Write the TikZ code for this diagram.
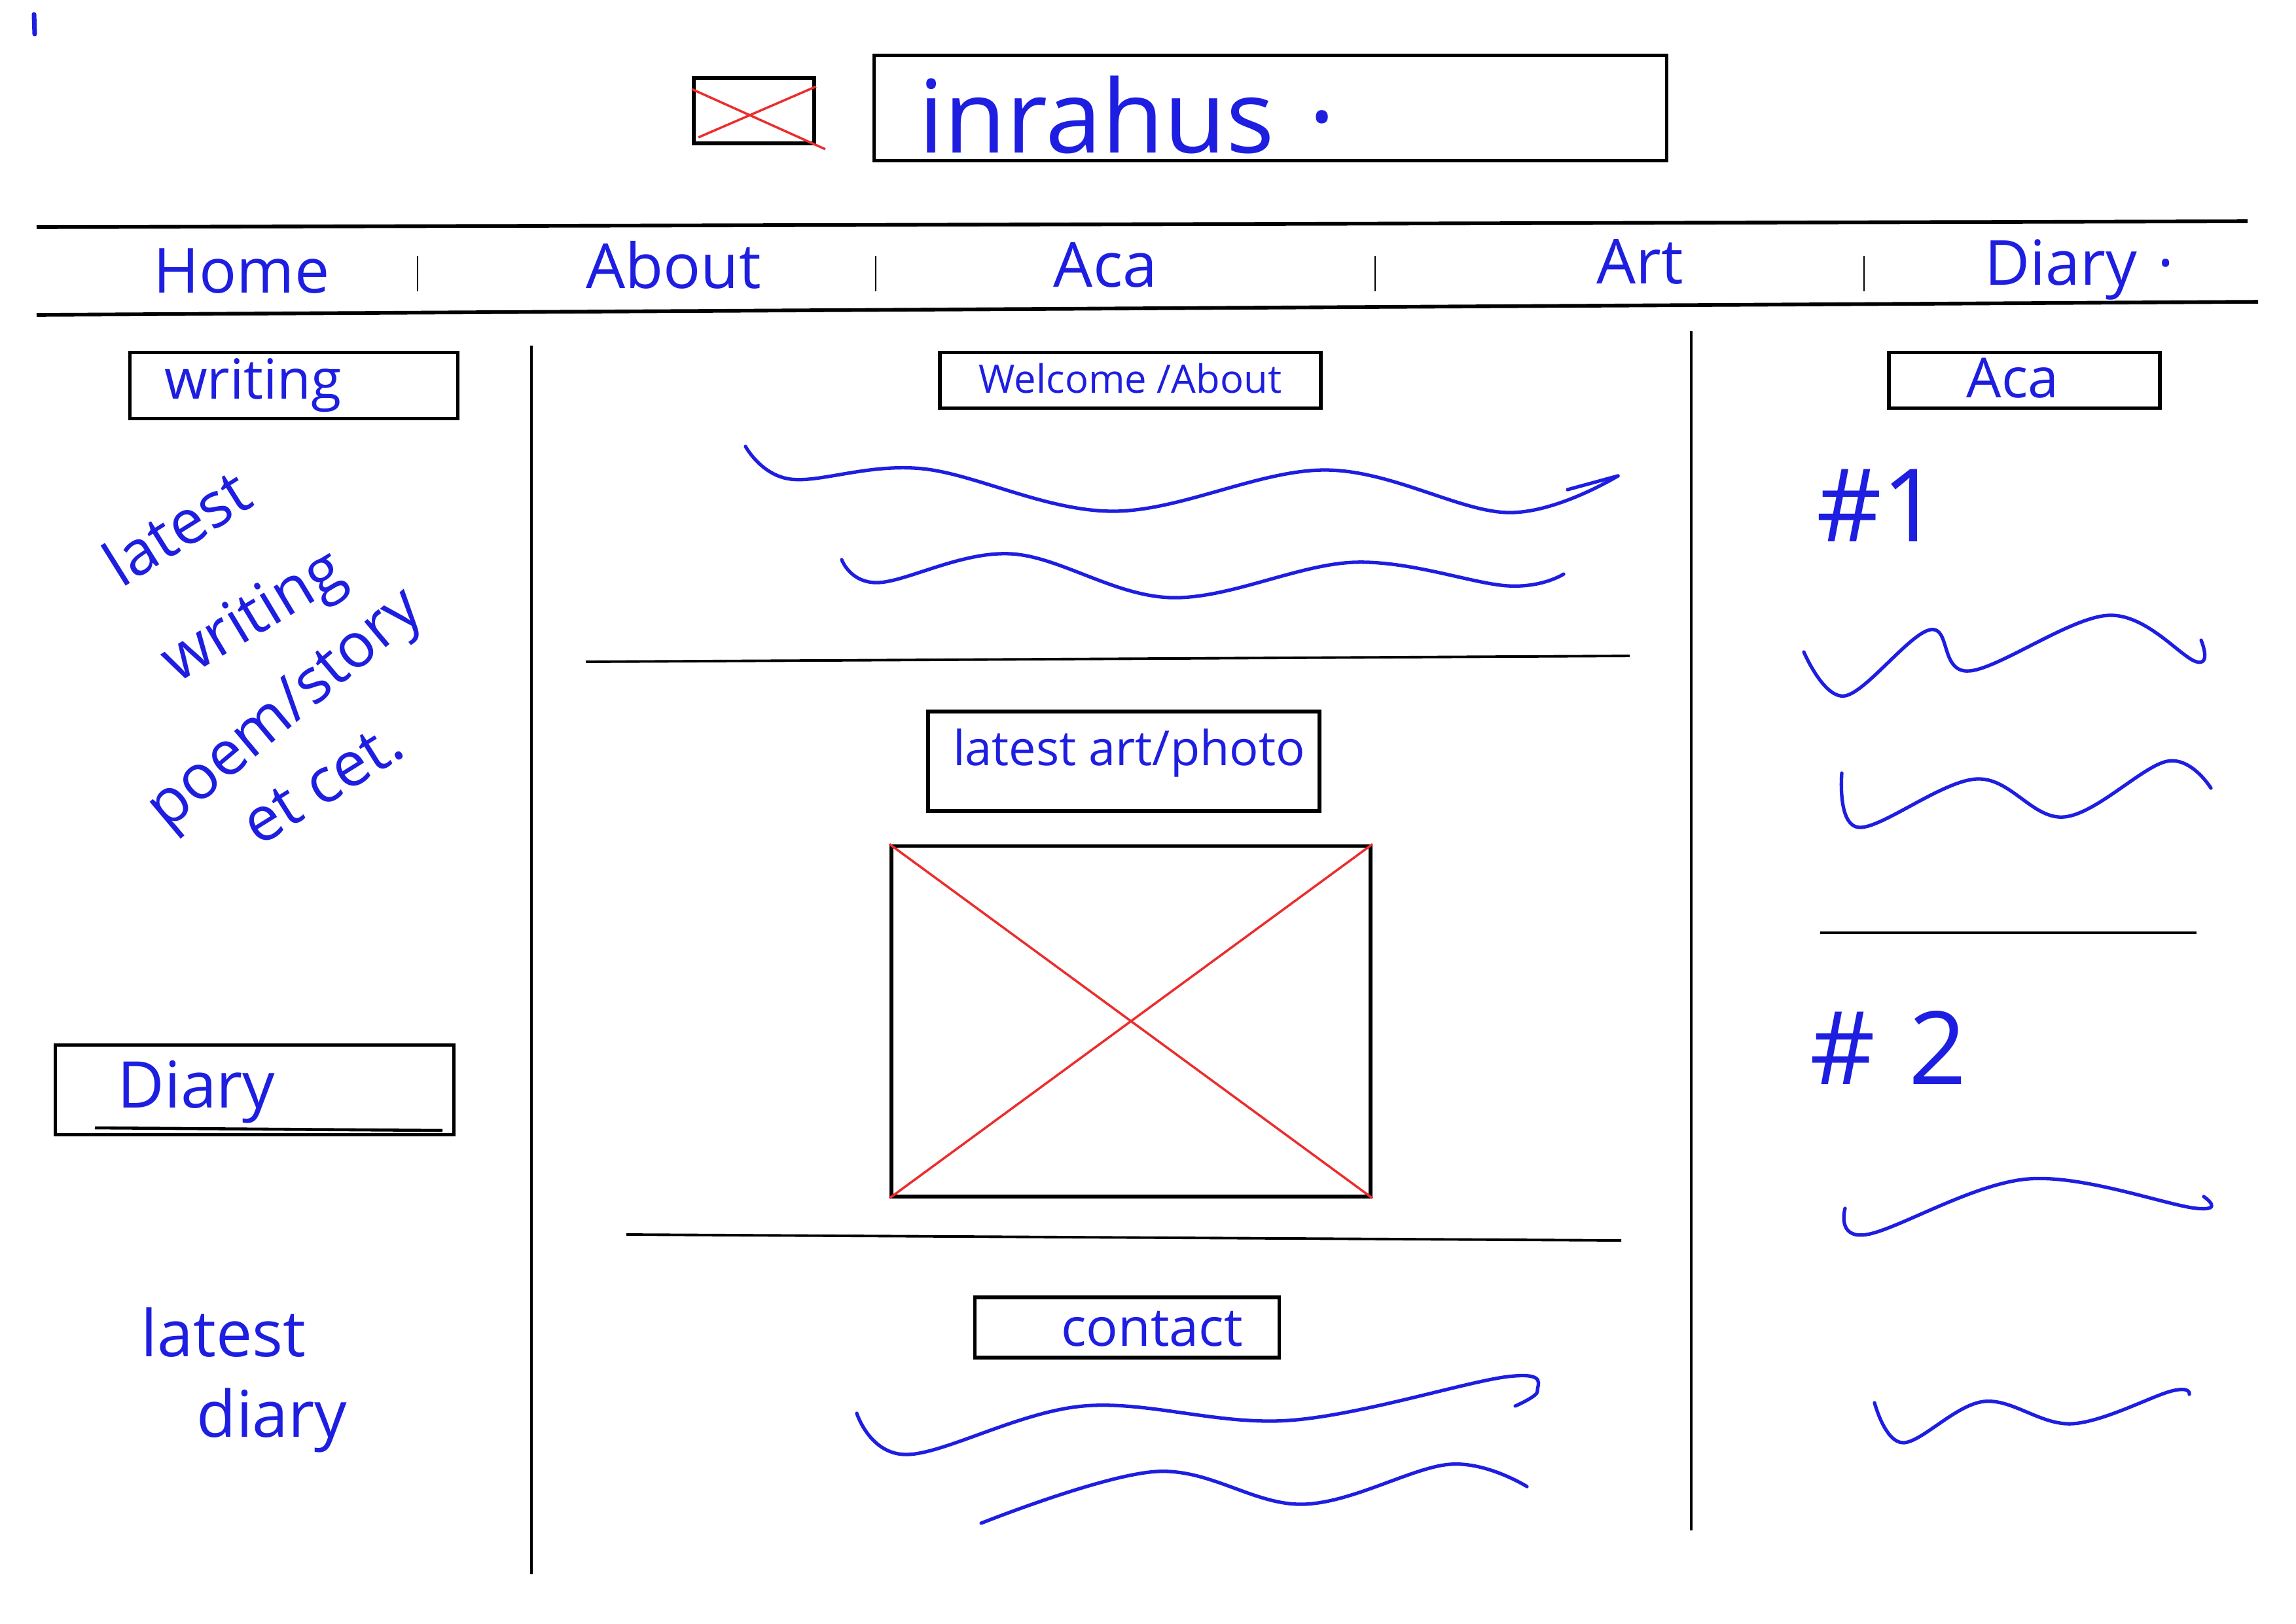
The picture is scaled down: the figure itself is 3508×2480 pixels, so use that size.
\documentclass[tikz,border=0pt]{standalone}
\usepackage{fontspec}
\setmainfont{Open Sans}
\usetikzlibrary{positioning, calc}
\definecolor{inkblue}{RGB}{30,30,225}
\definecolor{markred}{RGB}{235,45,45}
\tikzset{
    frame/.style={rectangle, draw=black, line width=1.6pt, inner sep=0pt},
    rule/.style={draw=black, line width=1.1pt},
    ink/.style={draw=inkblue, line width=1.5pt, line cap=round, line join=round},
    cross/.style={draw=markred, line width=1pt},
    hand/.style={text=inkblue, inner sep=0pt, font=\fontsize{24}{26}\selectfont},
}

\begin{document}
\begin{tikzpicture}[
    x=0.01cm, y=-0.01cm,
    navitem/.style={hand, font=\fontsize{27}{28}\selectfont},
    big/.style={hand, font=\fontsize{44}{46}\selectfont},
    slant/.style={hand, font=\fontsize{27}{29}\selectfont, anchor=base west},
]
\useasboundingbox (0,0) rectangle (3508,2480);

% stray mark and header
\draw[ink, line width=2pt] (52,22) -- (53,52);
\node[frame, minimum width=1.84cm, minimum height=1cm] (logo) at (1152,169) {};
\draw[cross] (logo.north west) ++(0,20) -- ($(logo.south east)+(14,6)$);
\draw[cross] ($(logo.south west)+(10,-12)$) -- ($(logo.north east)+(0,16)$);
\node[frame, minimum width=12.1cm, minimum height=1.61cm] (banner) at (1941,165) {};
\node[big, anchor=west] (site) at ($(banner.west)+(70,10)$) {inrahus\,\,·};

% navigation bar
\coordinate (navtl) at (56,347);
\coordinate (navtr) at (3434,338);
\coordinate (navbl) at (56,481);
\coordinate (navbr) at (3450,461);
\draw[rule, line width=1.6pt] (navtl) -- (navtr);
\draw[rule, line width=1.6pt] (navbl) -- (navbr);
\node[navitem] (home) at (369,414) {Home};
\node[navitem] (about) at (1029,405) {About};
\node[navitem] (aca) at (1689,405) {Aca};
\node[navitem] (art) at (2506,400) {Art};
\node[navitem] (diary) at (3177,412) {Diary\,\,·};
\foreach \x in {638,1338,2101,2848}
    \draw[rule, line width=0.6pt] (\x,391) -- (\x,445);

% column dividers
\draw[rule] (812,528) -- (812,2405);
\draw[rule] (2584,506) -- (2584,2338);

% left column
\node[frame, minimum width=5.01cm, minimum height=1.01cm] (writebox) at (449,589) {};
\node[hand, anchor=west] (writelbl) at ($(writebox.west)+(55,0)$) {writing};
\node[slant, rotate=32] (l1) at (185,900) {latest};
\node[slant, rotate=31] (l2) at (270,1045) {writing};
\node[slant, rotate=40] (l3) at (255,1270) {poem/story};
\node[slant, rotate=32] (l4) at (395,1295) {et cet.};

\node[frame, minimum width=6.09cm, minimum height=1.37cm] (diarybox) at (389,1665) {};
\node[hand, font=\fontsize{28}{30}\selectfont] (diarylbl) at (300,1668) {Diary};
\draw[rule, line width=1.3pt] (145,1723) -- (676,1727);
\node[hand, font=\fontsize{28}{30}\selectfont, anchor=west] (ld1) at (215,2036) {latest};
\node[hand, font=\fontsize{28}{30}\selectfont, anchor=west] (ld2) at (300,2170) {diary};

% centre column
\node[frame, minimum width=5.82cm, minimum height=0.85cm] (welcome) at (1727,581) {};
\node[hand, font=\fontsize{17}{18}\selectfont] (welcomelbl) at (1727,578) {Welcome /About};
\draw[ink] plot[smooth, tension=0.6] coordinates {(1139,682) (1208,732) (1409,716) (1700,781) (2025,718) (2304,783) (2472,727)};
\draw[ink] (2472,727) -- (2395,748);
\draw[ink] plot[smooth, tension=0.6] coordinates {(1286,855) (1342,890) (1544,846) (1790,913) (2069,859) (2304,895) (2389,877)};
\draw[rule] (895,1011) -- (2490,1002);

\node[frame, minimum width=5.98cm, minimum height=1.52cm] (artbox) at (1717,1163) {};
\node[hand, font=\fontsize{21}{22}\selectfont] (artlbl) at (1725,1150) {latest art/photo};
\node[frame, minimum width=7.32cm, minimum height=5.35cm] (photo) at (1728,1560) {};
\draw[cross] (photo.north west) -- (photo.south east);
\draw[cross] (photo.south west) -- (photo.north east);
\draw[rule] (957,1886) -- (2477,1895);

\node[frame, minimum width=4.65cm, minimum height=0.92cm] (contact) at (1722,2028) {};
\node[hand, font=\fontsize{23}{24}\selectfont] (contactlbl) at (1760,2030) {contact};
\draw[ink] plot[smooth, tension=0.6] coordinates {(1309,2159) (1387,2222) (1655,2148) (1969,2170) (2304,2103) (2349,2125) (2315,2148)};
\draw[ink] plot[smooth, tension=0.6] coordinates {(1499,2327) (1767,2248) (1991,2298) (2215,2237) (2333,2271)};

% right column
\node[frame, minimum width=4.14cm, minimum height=0.85cm] (acabox) at (3093,581) {};
\node[hand, font=\fontsize{24}{26}\selectfont] (acalbl) at (3075,578) {Aca};
\node[big] (n1) at (2870,772) {\#1};
\draw[ink] plot[smooth, tension=0.6] coordinates {(2756,996) (2819,1063) (2949,962) (3009,1025) (3222,940) (3356,1011) (3363,978)};
\draw[ink] plot[smooth, tension=0.6] coordinates {(2814,1181) (2841,1264) (3020,1190) (3154,1248) (3311,1163) (3378,1204)};
\draw[rule] (2781,1425) -- (3356,1425);
\node[big] (n2) at (2885,1600) {\#\,\,2};
\draw[ink] plot[smooth, tension=0.6] coordinates {(2819,1846) (2852,1886) (3099,1801) (3356,1846) (3367,1828)};
\draw[ink] plot[smooth, tension=0.6] coordinates {(2864,2143) (2908,2204) (3031,2141) (3166,2175) (3318,2125) (3345,2130)};
\end{tikzpicture}
\end{document}
